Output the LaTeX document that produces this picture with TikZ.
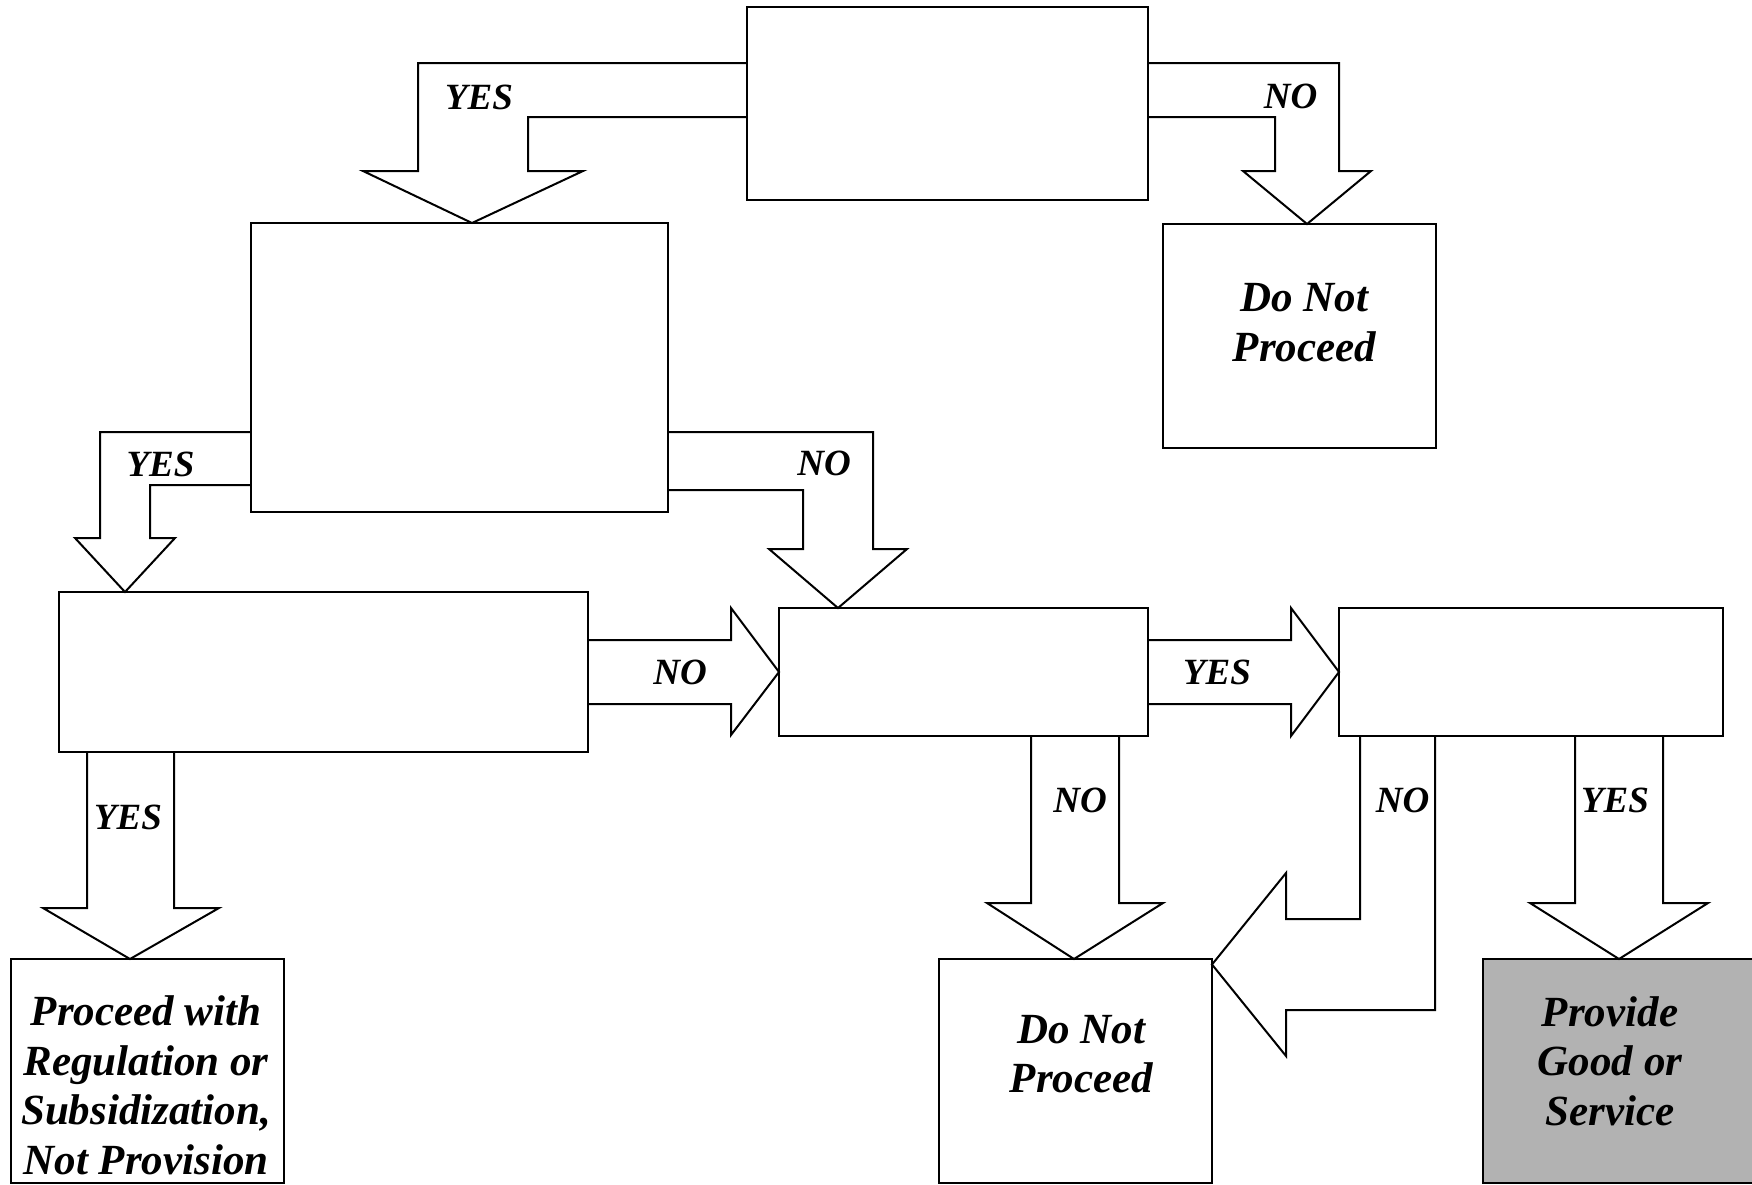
\documentclass[tikz,border=0pt]{standalone}
\usepackage{fontspec}
\setmainfont{Liberation Serif}
\definecolor{shade}{RGB}{178,178,178}
\tikzset{
  qbox/.style={draw, line width=2pt, rectangle, inner sep=0pt, outer sep=0pt, anchor=north west},
  boxtext/.style={font=\fontsize{43}{49.5}\selectfont\bfseries\itshape, align=center, inner sep=0pt},
  lbl/.style={font=\fontsize{37}{44}\selectfont\bfseries\itshape, inner sep=0pt},
  barrow/.style={draw, line width=2pt},
}
\begin{document}
\begin{tikzpicture}[x=1pt,y=-1pt]
\useasboundingbox (0,0) rectangle (1752,1184);

\node[qbox, minimum width=401pt, minimum height=193pt] (q1) at (747,7) {};
\node[qbox, minimum width=417pt, minimum height=289pt] (q2) at (251,223) {};
\node[qbox, minimum width=273pt, minimum height=224pt] (stop1) at (1163,224) {};
\node[qbox, minimum width=529pt, minimum height=160pt] (q3) at (59,592) {};
\node[qbox, minimum width=369pt, minimum height=128pt] (q4) at (779,608) {};
\node[qbox, minimum width=384pt, minimum height=128pt] (q5) at (1339,608) {};
\node[qbox, minimum width=273pt, minimum height=224pt] (reg) at (11,959) {};
\node[qbox, minimum width=273pt, minimum height=224pt] (stop2) at (939,959) {};
\node[qbox, fill=shade, minimum width=273pt, minimum height=224pt] (provide) at (1483,959) {};

\node[boxtext] (stop1-t) at (1304.5,322.5) {Do Not\\Proceed};
\node[boxtext] (stop2-t) at (1081.5,1054) {Do Not\\Proceed};
\node[boxtext] (reg-t) at (146,1085.5) {Proceed with\\Regulation or\\Subsidization,\\Not Provision};
\node[boxtext] (provide-t) at (1610,1061) {Provide\\Good or\\Service};

% block arrows
\draw[barrow] ([yshift=40.5pt]q1.west) -- ++(-329,0) -- ++(0,108) -- ++(-55,0)
-- ([xshift=12.5pt]q2.north) -- ++(111,-52) -- ++(-55,0) -- ++(0,-54)
-- ([yshift=-13.5pt]q1.west);

\draw[barrow] ([yshift=40.5pt]q1.east) -- ++(191,0) -- ++(0,108) -- ++(32,0)
-- ([xshift=7.5pt]stop1.north) -- ++(-64,-53) -- ++(32,0) -- ++(0,-54)
-- ([yshift=-13.5pt]q1.east);

\draw[barrow] ([yshift=-64.5pt]q2.west) -- ++(-151,0) -- ++(0,106) -- ++(-25,0)
-- ([xshift=66pt]q3.north west) -- ++(50,-54) -- ++(-25,0) -- ++(0,-53)
-- ([yshift=-117.5pt]q2.west);

\draw[barrow] ([yshift=-64.5pt]q2.east) -- ++(205,0) -- ++(0,117) -- ++(34,0)
-- ([xshift=59pt]q4.north west) -- ++(-69,-59) -- ++(34,0) -- ++(0,-59)
-- ([yshift=-122.5pt]q2.east);

\draw[barrow] ([yshift=32pt]q3.east) -- ++(143,0) -- ++(0,-32)
-- (q4.west) -- ++(-48,63) -- ++(0,-31)
-- ([yshift=-32pt]q3.east);

\draw[barrow] ([yshift=32pt]q4.east) -- ++(143,0) -- ++(0,-32)
-- (q5.west) -- ++(-48,64) -- ++(0,-32)
-- ([yshift=-32pt]q4.east);

\draw[barrow] ([xshift=28pt]q3.south west) -- ++(0,156) -- ++(-44,0)
-- ([xshift=119pt]reg.north west) -- ++(89,-51) -- ++(-45,0)
-- ([xshift=115pt]q3.south west);

\draw[barrow] ([xshift=252pt]q4.south west) -- ++(0,167) -- ++(-44,0)
-- ([xshift=135pt]stop2.north west) -- ++(89,-56) -- ++(-44,0)
-- ([xshift=340pt]q4.south west);

\draw[barrow] ([xshift=21pt]q5.south west) -- ++(0,183) -- ++(-74,0) -- ++(0,-46)
-- ([yshift=-5.5pt]stop2.north east) -- ++(74,91.5) -- ++(0,-46) -- ++(149,0)
-- ([xshift=96pt]q5.south west);

\draw[barrow] ([xshift=236pt]q5.south west) -- ++(0,167) -- ++(-45,0)
-- ([xshift=136pt]provide.north west) -- ++(89,-56) -- ++(-45,0)
-- ([xshift=324pt]q5.south west);

% labels
\node[lbl] (yes1) at (479,97) {YES};
\node[lbl] (no1) at (1290.5,96) {NO};
\node[lbl] (yes2) at (160.5,464) {YES};
\node[lbl] (no2) at (824,463) {NO};
\node[lbl] (no3) at (680,672) {NO};
\node[lbl] (yes3) at (1217,672) {YES};
\node[lbl] (yes4) at (128,817) {YES};
\node[lbl] (no4) at (1080,800) {NO};
\node[lbl] (no5) at (1402.5,800) {NO};
\node[lbl] (yes5) at (1615,800) {YES};
\end{tikzpicture}
\end{document}
